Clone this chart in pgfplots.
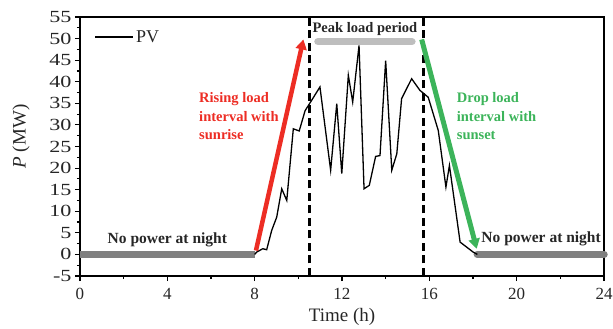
\documentclass[border=0pt]{standalone}
\usepackage{fontspec}
\setmainfont{Liberation Serif}
\usepackage{graphicx}
\usepackage{pgfplots}
\pgfplotsset{compat=1.18}
\usetikzlibrary{arrows.meta}
\definecolor{redc}{RGB}{237,45,36}
\definecolor{greenc}{RGB}{60,180,90}
\definecolor{nightgray}{RGB}{128,128,128}
\definecolor{peakgray}{RGB}{190,190,190}
\begin{document}
\begin{tikzpicture}
\begin{axis}[
  scale only axis, width=524pt, height=259pt,
  xmin=0, xmax=24, ymin=-5, ymax=55,
  xtick={0,4,...,24}, ytick={-5,0,...,55},
  minor x tick num=1, minor y tick num=1,
  tick align=outside, xtick pos=bottom, ytick pos=left,
  major tick length=5pt, minor tick length=3pt,
  axis line style={line width=1.3pt},
  every tick/.style={line width=1.1pt, black},
  tick label style={font=\fontsize{17}{20}\selectfont, text=black!85},
  xticklabel style={yshift=-4pt},
  /pgf/number format/assume math mode=true,
  yticklabel={\scalebox{1.3}[1]{\pgfmathprintnumber{\tick}}},
  xlabel={Time (h)}, ylabel={\textit{P} (MW)},
  xlabel style={at={(axis description cs:0.5,0)}, yshift=-41pt, anchor=center, font=\fontsize{19}{22}\selectfont, text=black!85},
  ylabel style={at={(axis description cs:0,0.5)}, anchor=center, xshift=10pt, yshift=59pt, font=\fontsize{19}{22}\selectfont, text=black!85},
  clip=false,
  legend style={at={(0.022,0.965)}, anchor=north west, draw=none, fill=none,
    font=\fontsize{18}{20}\selectfont, text=black!85},
  legend image code/.code={\draw[#1] (0pt,0pt) -- (38pt,0pt);},
]
% night bars
\addplot[forget plot, nightgray, line width=7.5pt] coordinates {(0,0) (8,0)};
\addplot[forget plot, nightgray, line width=7.5pt, line cap=round] coordinates {(18.2,0) (24,0)};
% peak bar
\addplot[forget plot, peakgray, line width=7.5pt, line cap=round] coordinates {(10.9,49.3) (15.2,49.3)};
% PV curve
\addplot[black, line width=1.3pt] coordinates {
(8.0,0) (8.09,0.53) (8.37,1.32) (8.55,1.09) (8.78,5.56) (9.01,8.64) (9.24,15.2) (9.47,12.5)
(9.77,29.1) (10.04,28.6) (10.31,33.3) (10.61,35.7) (10.99,38.8) (11.48,19.5) (11.76,34.9)
(11.99,18.7) (12.29,41.5) (12.49,35.3) (12.78,48.4) (13.01,15.2) (13.25,16.0) (13.54,22.7)
(13.74,22.9) (14.0,44.9) (14.28,19.5) (14.51,23.3) (14.73,36.1) (15.19,40.7) (15.57,38.0)
(15.95,36.4) (16.41,28.7) (16.76,15.6) (16.92,20.6) (17.41,2.85) (18.01,0.53) (18.2,0)
};
\addlegendentry{PV}
% dashed lines
\addplot[forget plot, black, line width=3pt, dash pattern=on 8pt off 4.5pt] coordinates {(10.49,-5) (10.49,55)};
\addplot[forget plot, black, line width=3pt, dash pattern=on 8pt off 4.5pt] coordinates {(15.71,-5) (15.71,55)};
% arrows
\addplot[forget plot, redc, line width=4.5pt, -{Triangle[length=10pt,width=11pt]}] coordinates {(8.06,0.9) (10.23,49.8)};
\addplot[forget plot, greenc, line width=5pt, -{Triangle[length=10pt,width=11pt]}] coordinates {(15.65,49.8) (18.17,1.3)};
% texts
\node[font=\bfseries\fontsize{15.5}{18}\selectfont, text=black!85] at (axis cs:4.0,3.4) {No power at night};
\node[font=\bfseries\fontsize{15.5}{18}\selectfont, text=black!85] at (axis cs:21.12,3.5) {No power at night};
\node[font=\bfseries\fontsize{14.5}{17}\selectfont, text=black!85] at (axis cs:13.05,52.2) {Peak load period};
\node[font=\bfseries\fontsize{14.5}{18.5}\selectfont, text=redc, align=left, anchor=west] at (axis cs:5.3,32.0) {Rising load\\interval with\\sunrise};
\node[font=\bfseries\fontsize{14.5}{18.5}\selectfont, text=greenc, align=left, anchor=west] at (axis cs:17.1,32.0) {Drop load\\interval with\\sunset};
\end{axis}
\pgfresetboundingbox
\path[use as bounding box] (-80pt,-53pt) rectangle (533pt,276pt);
\end{tikzpicture}
\end{document}
